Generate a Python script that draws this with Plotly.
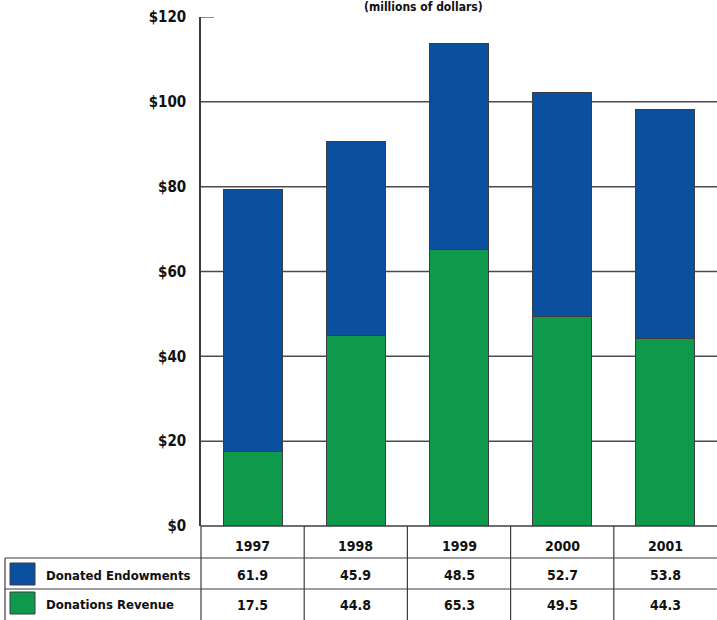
import plotly.graph_objects as go

# Data (millions of dollars)
years = ["1997", "1998", "1999", "2000", "2001"]
endowments = [61.9, 45.9, 48.5, 52.7, 53.8]
revenue = [17.5, 44.8, 65.3, 49.5, 44.3]
series_names = ["Donated Endowments", "Donations Revenue"]
y_ticks = [0, 20, 40, 60, 80, 100, 120]
y_tick_text = ["$0", "$20", "$40", "$60", "$80", "$100", "$120"]

BLUE = "#0b4f9f"
GREEN = "#0f9a4b"
LINE = "#3c3c44"
FONT = "DejaVu Sans Condensed, Liberation Sans Narrow, sans-serif"

W, H = 717, 620
L, R, T, B = 201, 0, 17, 94
plot_w = W - L - R
plot_h = H - T - B


def px_x(x):
    return (x - L) / plot_w


def px_y(y):
    return (H - B - y) / plot_h


fig = go.Figure()
fig.add_bar(x=years, y=revenue, name=series_names[1], marker_color=GREEN,
            marker_line=dict(color=LINE, width=1), width=0.57)
fig.add_bar(x=years, y=endowments, name=series_names[0], marker_color=BLUE,
            marker_line=dict(color=LINE, width=1), width=0.57)

shapes = []
annotations = []

# Gridlines behind bars (full width), short tick at the top value
for v in y_ticks[1:-1]:
    shapes.append(dict(type="line", xref="paper", yref="y", x0=0, x1=1, y0=v, y1=v,
                       line=dict(color="#4a4a52", width=1.5), layer="below"))
shapes.append(dict(type="line", xref="paper", yref="y", x0=0, x1=px_x(214), y0=120, y1=120,
                   line=dict(color=LINE, width=1.2), layer="below"))

# Data table under the plot
n = len(years)
row_lines = [558, 589]
y_bottom = 620
for yy in row_lines:
    shapes.append(dict(type="line", xref="paper", yref="paper", x0=px_x(5), x1=1,
                       y0=px_y(yy), y1=px_y(yy), line=dict(color=LINE, width=1.2)))
# x-axis baseline
shapes.append(dict(type="line", xref="paper", yref="paper", x0=0, x1=1, y0=0, y1=0,
                   line=dict(color=LINE, width=1.5)))
# vertical separators
for i in range(n):
    shapes.append(dict(type="line", xref="paper", yref="paper", x0=i / n, x1=i / n,
                       y0=0, y1=px_y(y_bottom), line=dict(color=LINE, width=1.2)))
shapes.append(dict(type="line", xref="paper", yref="paper", x0=px_x(5), x1=px_x(5),
                   y0=px_y(558), y1=px_y(y_bottom), line=dict(color=LINE, width=1.2)))

# Legend swatches
for (y0, y1), col in zip([(563, 585), (592, 614)], [BLUE, GREEN]):
    shapes.append(dict(type="rect", xref="paper", yref="paper", x0=px_x(10), x1=px_x(35),
                       y0=px_y(y1), y1=px_y(y0), fillcolor=col, line=dict(color=LINE, width=1)))

label_font = dict(family=FONT, size=13, color="#111111")
cell_font = dict(family=FONT, size=14, color="#111111")
for name, yc in zip(series_names, [575, 604]):
    annotations.append(dict(xref="paper", yref="paper", x=px_x(44), y=px_y(yc), text=f"<b>{name}</b>",
                            showarrow=False, xanchor="left", yanchor="middle", font=label_font))

for i, yr in enumerate(years):
    xc = (i + 0.5) / n
    annotations.append(dict(xref="paper", yref="paper", x=xc, y=px_y(546), text=f"<b>{yr}</b>",
                            showarrow=False, xanchor="center", yanchor="middle", font=cell_font))
    for vals, yc in [(endowments, 575), (revenue, 605)]:
        annotations.append(dict(xref="paper", yref="paper", x=xc, y=px_y(yc),
                                text=f"<b>{vals[i]:.1f}</b>", showarrow=False,
                                xanchor="center", yanchor="middle", font=cell_font))

# Units subtitle at the top
annotations.append(dict(xref="paper", yref="paper", x=px_x(423), y=px_y(7),
                        text="<b>(millions of dollars)</b>", showarrow=False,
                        xanchor="center", yanchor="middle",
                        font=dict(family=FONT, size=12, color="#111111")))

fig.update_layout(
    width=W, height=H,
    margin=dict(l=L, r=R, t=T, b=B),
    barmode="stack",
    showlegend=False,
    plot_bgcolor="white", paper_bgcolor="white",
    shapes=shapes, annotations=annotations,
    xaxis=dict(range=[-0.5, n - 0.5], showticklabels=False, showgrid=False, zeroline=False,
               showline=False, ticks=""),
    yaxis=dict(range=[0, 120], tickvals=y_ticks, ticktext=[f"<b>{t}</b>" for t in y_tick_text],
               showgrid=False, zeroline=False, showline=True, linecolor=LINE, linewidth=1.5,
               ticks="", ticklabelstandoff=10,
               tickfont=dict(family=FONT, size=15, color="#111111")),
    font=dict(family=FONT),
)

fig.write_html("out.html")
